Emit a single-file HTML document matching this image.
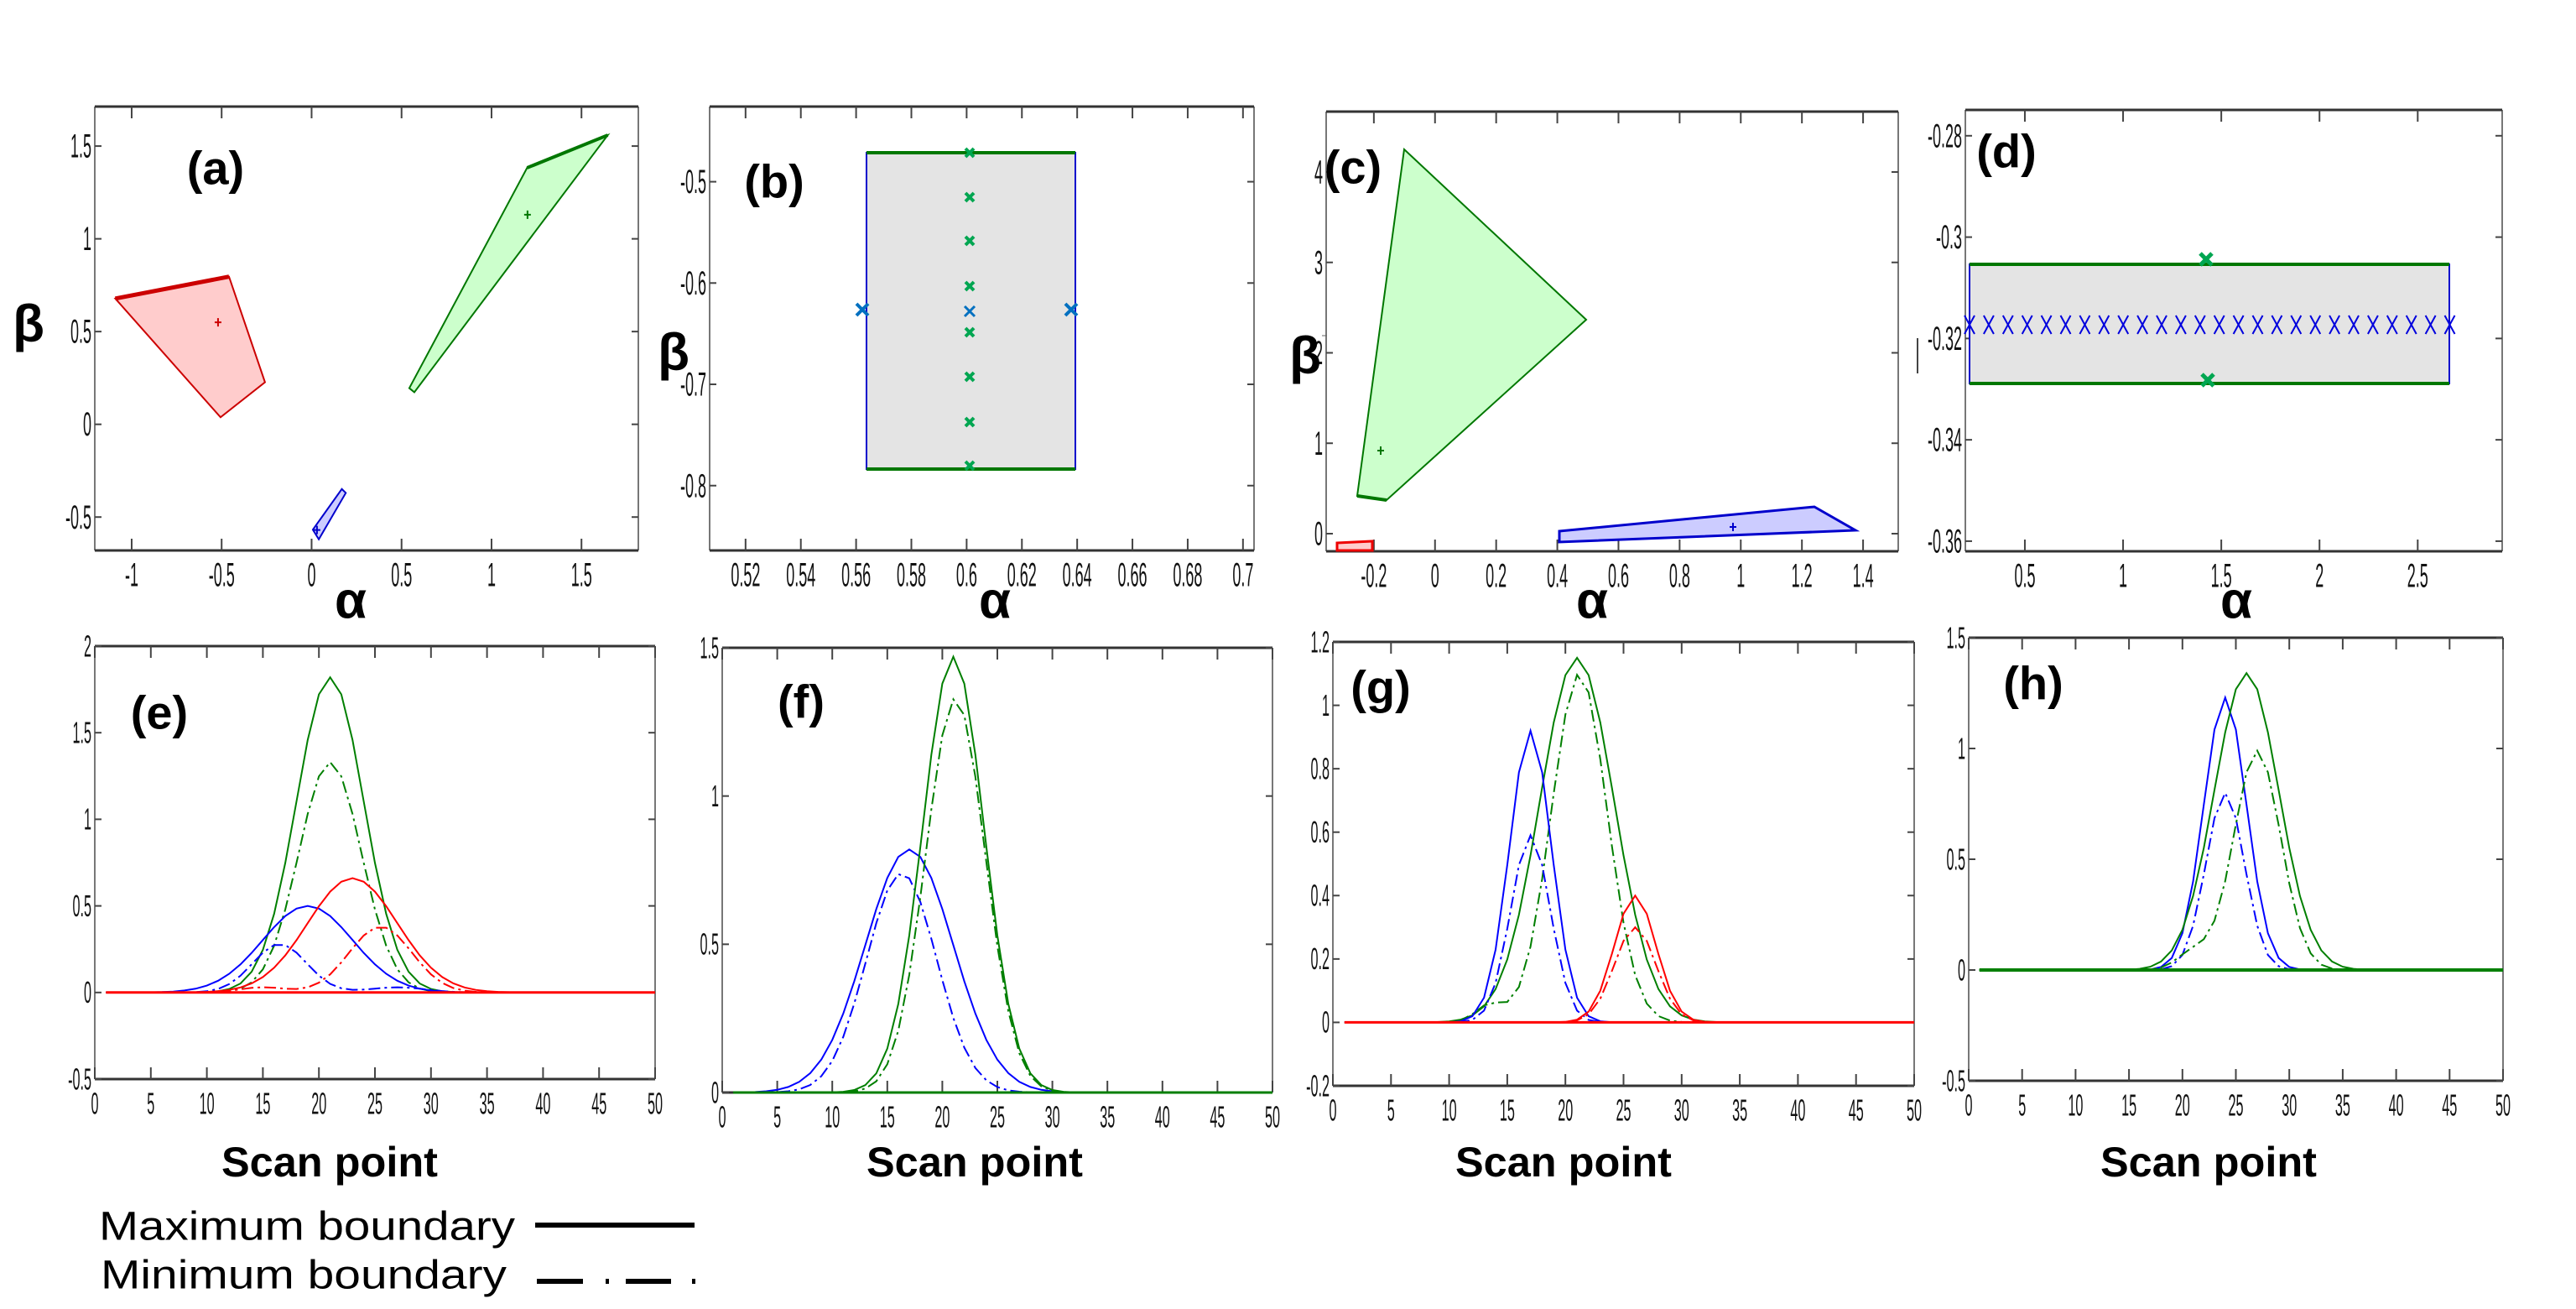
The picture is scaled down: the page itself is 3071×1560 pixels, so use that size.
<!DOCTYPE html>
<html><head><meta charset="utf-8">
<style>
html,body{margin:0;padding:0;background:#fff;}
svg{display:block;}
text{font-family:"Liberation Sans",sans-serif;}
</style></head>
<body>
<svg id="s" xmlns="http://www.w3.org/2000/svg" width="3071" height="1560" viewBox="0 0 3071 1560">
<rect width="3071" height="1560" fill="#fff"/>
</svg>
<script>
const S=document.getElementById('s');
const NS='http://www.w3.org/2000/svg';
function el(t,a,txt){const e=document.createElementNS(NS,t);for(const k in a)e.setAttribute(k,a[k]);if(txt!==undefined)e.textContent=txt;S.appendChild(e);return e;}
function mk(ax){return {X:v=>ax.l+(v-ax.x0)/(ax.x1-ax.x0)*(ax.r-ax.l),Y:v=>ax.b-(v-ax.y0)/(ax.y1-ax.y0)*(ax.b-ax.t)};}
function lbl(x,y,s,anchor,fs,sx){const e=el('text',{transform:`translate(${x},${y}) scale(${sx},1)`,'text-anchor':anchor,'font-size':fs,'dominant-baseline':'central',fill:'#111'},s);}
function axes(ax,xt,yt,fs,sx){
 const m=mk(ax);
 el('line',{x1:ax.l,y1:ax.t,x2:ax.l,y2:ax.b,stroke:'#777','stroke-width':2});
 el('line',{x1:ax.r,y1:ax.t,x2:ax.r,y2:ax.b,stroke:'#777','stroke-width':2});
 el('line',{x1:ax.l,y1:ax.t,x2:ax.r,y2:ax.t,stroke:'#333','stroke-width':3});
 el('line',{x1:ax.l,y1:ax.b,x2:ax.r,y2:ax.b,stroke:'#333','stroke-width':3});
 for(const [v,s] of xt){const x=m.X(v);
  el('line',{x1:x,y1:ax.b,x2:x,y2:ax.b-14,stroke:'#444','stroke-width':2});
  el('line',{x1:x,y1:ax.t,x2:x,y2:ax.t+14,stroke:'#444','stroke-width':2});
  lbl(x,ax.b+29,s,'middle',fs,sx);}
 for(const [v,s] of yt){const y=m.Y(v);
  el('line',{x1:ax.l,y1:y,x2:ax.l+8,y2:y,stroke:'#444','stroke-width':2});
  el('line',{x1:ax.r,y1:y,x2:ax.r-8,y2:y,stroke:'#444','stroke-width':2});
  lbl(ax.l-4,y,s,'end',fs,sx);}
 return m;}
function big(x,y,s,fs){el('text',{x:x,y:y,'text-anchor':'middle','dominant-baseline':'central','font-size':fs,'font-weight':'bold',fill:'#000'},s);}
function poly(m,pts,fill,stroke,w){el('polygon',{points:pts.map(p=>m.X(p[0])+','+m.Y(p[1])).join(' '),fill:fill,stroke:stroke,'stroke-width':w||2});}
function ppoly(pts,fill,stroke,w){el('polygon',{points:pts.map(p=>p.join(',')).join(' '),fill:fill,stroke:stroke,'stroke-width':w||2});}
function xm(x,y,c,sz,w){el('path',{d:`M${x-sz} ${y-sz}L${x+sz} ${y+sz}M${x-sz} ${y+sz}L${x+sz} ${y-sz}`,stroke:c,'stroke-width':w,fill:'none'});}
function plus(x,y,c){el('path',{d:`M${x-4} ${y}H${x+4}M${x} ${y-5}V${y+5}`,stroke:c,'stroke-width':2});}
function rng(a,b,s){const r=[];for(let v=a;v<=b+1e-9;v+=s)r.push([+v.toFixed(4),String(+v.toFixed(4))]);return r;}

const FS=40,SX=0.45;
// (a)
let A={l:113,r:761,t:127,b:656,x0:-1.205,x1:1.816,y0:-0.68,y1:1.713};
let m=axes(A,rng(-1,1.5,0.5),rng(-0.5,1.5,0.5),FS,SX);
poly(m,[[-1.091,0.678],[-0.459,0.796],[-0.259,0.227],[-0.506,0.038]],'#ffcccc','#cc0000',2);
el('line',{x1:m.X(-1.091),y1:m.Y(0.678),x2:m.X(-0.459),y2:m.Y(0.796),stroke:'#cc0000','stroke-width':5});
poly(m,[[0.543,0.195],[1.198,1.383],[1.646,1.559],[0.571,0.173]],'#ccffcc','#007700',2);
el('line',{x1:m.X(1.198),y1:m.Y(1.383),x2:m.X(1.646),y2:m.Y(1.559),stroke:'#007700','stroke-width':4});
poly(m,[[0.007,-0.568],[0.168,-0.349],[0.19,-0.37],[0.04,-0.62]],'#ccccff','#0000cc',2);
plus(m.X(-0.52),m.Y(0.55),'#cc0000');plus(m.X(1.2),m.Y(1.13),'#007700');plus(m.X(0.03),m.Y(-0.57),'#0000cc');
big(257,200,'(a)',56);big(34,386,'β',62);big(418,716,'α',62);
// (b)
let B={l:846,r:1495,t:127,b:656,x0:0.507,x1:0.704,y0:-0.864,y1:-0.4258};
m=axes(B,[[0.52,'0.52'],[0.54,'0.54'],[0.56,'0.56'],[0.58,'0.58'],[0.6,'0.6'],[0.62,'0.62'],[0.64,'0.64'],[0.66,'0.66'],[0.68,'0.68'],[0.7,'0.7']],[[-0.5,'-0.5'],[-0.6,'-0.6'],[-0.7,'-0.7'],[-0.8,'-0.8']],FS,SX);
el('rect',{x:1033,y:182,width:249,height:377,fill:'#e4e4e4',stroke:'#0000cc','stroke-width':2});
el('line',{x1:1033,y1:182,x2:1282,y2:182,stroke:'#007700','stroke-width':4});
el('line',{x1:1033,y1:559,x2:1282,y2:559,stroke:'#007700','stroke-width':4});
for(const y of [182,235,287,341,396,449,503,555])xm(1156,y,'#00a651',5,4);
xm(1028,369,'#0070c0',7,4);xm(1156,371,'#0070c0',6,3);xm(1277,369,'#0070c0',7,4);
big(923,216,'(b)',56);big(803,420,'β',62);big(1186,716,'α',62);
// (c)
let C={l:1581,r:2263,t:133,b:657,x0:-0.356,x1:1.515,y0:-0.195,y1:4.668};
m=axes(C,[[-0.2,'-0.2'],[0,'0'],[0.2,'0.2'],[0.4,'0.4'],[0.6,'0.6'],[0.8,'0.8'],[1,'1'],[1.2,'1.2'],[1.4,'1.4']],rng(0,4,1),FS,SX);
ppoly([[1674,178],[1891,381],[1653,596],[1618,591]],'#ccffcc','#007700',2);
el('line',{x1:1618,y1:591,x2:1653,y2:596,stroke:'#007700','stroke-width':4});
ppoly([[1859,633],[2163,604],[2212,632],[1859,646]],'#ccccff','#0000cc',3);
ppoly([[1594,647],[1636,645],[1636,656],[1594,656]],'#ffcccc','#ee0000',3);
plus(1646,537,'#007700');plus(2066,628,'#0000cc');
big(1613,199,'(c)',56);big(1556,424,'β',62);big(1898,716,'α',62);
el('line',{x1:1576,y1:400,x2:1582,y2:400,stroke:'#666','stroke-width':1});
// (d)
let D={l:2343,r:2983,t:131,b:657,x0:0.197,x1:2.93,y0:-0.362,y1:-0.2749};
m=axes(D,[[0.5,'0.5'],[1,'1'],[1.5,'1.5'],[2,'2'],[2.5,'2.5']],[[-0.28,'-0.28'],[-0.3,'-0.3'],[-0.32,'-0.32'],[-0.34,'-0.34'],[-0.36,'-0.36']],FS,SX);
el('rect',{x:2348,y:315,width:572,height:142,fill:'#e4e4e4',stroke:'#0000cc','stroke-width':2});
el('line',{x1:2348,y1:315,x2:2920,y2:315,stroke:'#007700','stroke-width':4});
el('line',{x1:2348,y1:457,x2:2920,y2:457,stroke:'#007700','stroke-width':4});
for(let i=0;i<26;i++){const x=2348+i*22.9;el('path',{d:`M${x-6} ${387-11}L${x+6} ${387+11}M${x-6} ${387+11}L${x+6} ${387-11}`,stroke:'#0000dd','stroke-width':2,fill:'none'});}
xm(2630,309,'#00a651',7,5);xm(2632,453,'#00a651',7,5);
el('line',{x1:2286,y1:403,x2:2286,y2:445,stroke:'#444','stroke-width':2});
big(2392,180,'(d)',56);big(2666,716,'α',62);

// bottom row
function g(x,a,mu,s){return a*Math.exp(-0.5*((x-mu)/s)**2);}
function curve(m,fn,col,dash,w){let d='';for(let x=1;x<=50;x++){d+=(x==1?'M':'L')+m.X(x).toFixed(1)+' '+m.Y(fn(x)).toFixed(1);}
 const a={d:d,stroke:col,'stroke-width':w||2,fill:'none'};if(dash)a['stroke-dasharray']='14 5 3 5';el('path',a);}
const GR='#007f00',BL='#0000ff',RD='#ff0000';
const xt=rng(0,50,5);const BF=36,BSX=0.45;
// (e)
let E={l:113,r:781,t:770,b:1286,x0:0,x1:50,y0:-0.5,y1:2};
m=axes(E,xt,[[-0.5,'-0.5'],[0,'0'],[0.5,'0.5'],[1,'1'],[1.5,'1.5'],[2,'2']],BF,BSX);
curve(m,x=>g(x,1.82,21,3),GR);curve(m,x=>g(x,1.33,21,2.8),GR,1);
curve(m,x=>g(x,0.5,19,4),BL);curve(m,x=>g(x,0.28,16.5,2.4)+g(x,0.03,27,2.5),BL,1);
curve(m,x=>g(x,0.66,23,4),RD);curve(m,x=>g(x,0.38,25.5,2.8)+g(x,0.03,15,2),RD,1);
el('line',{x1:m.X(1),y1:m.Y(0),x2:m.X(50),y2:m.Y(0),stroke:RD,'stroke-width':3});
big(190,849,'(e)',56);
// (f)
let F={l:861,r:1517,t:772,b:1302,x0:0,x1:50,y0:0,y1:1.5};
m=axes(F,xt,[[0,'0'],[0.5,'0.5'],[1,'1'],[1.5,'1.5']],BF,BSX);
curve(m,x=>g(x,0.82,17,4),BL);curve(m,x=>g(x,0.74,16.3,3.2),BL,1);
curve(m,x=>g(x,1.47,21,2.8),GR);curve(m,x=>g(x,1.33,21.2,2.7),GR,1);
el('line',{x1:m.X(1),y1:m.Y(0),x2:m.X(50),y2:m.Y(0),stroke:GR,'stroke-width':3});
big(955,836,'(f)',56);
// (g)
let G={l:1589,r:2282,t:765,b:1294,x0:0,x1:50,y0:-0.2,y1:1.2};
m=axes(G,xt,[[-0.2,'-0.2'],[0,'0'],[0.2,'0.2'],[0.4,'0.4'],[0.6,'0.6'],[0.8,'0.8'],[1,'1'],[1.2,'1.2']],BF,BSX);
curve(m,x=>g(x,1.15,21,3.2),GR);curve(m,x=>g(x,1.1,21.2,2.4)+g(x,0.055,13.5,1.2),GR,1);
curve(m,x=>g(x,0.92,17,1.8),BL);curve(m,x=>g(x,0.59,17,1.7),BL,1);
curve(m,x=>g(x,0.4,26,1.8),RD);curve(m,x=>g(x,0.3,26,1.8),RD,1);
el('line',{x1:m.X(1),y1:m.Y(0),x2:m.X(50),y2:m.Y(0),stroke:RD,'stroke-width':3});
big(1646,819,'(g)',56);
// (h)
let H={l:2347,r:2984,t:760,b:1288,x0:0,x1:50,y0:-0.5,y1:1.5};
m=axes(H,xt,[[-0.5,'-0.5'],[0,'0'],[0.5,'0.5'],[1,'1'],[1.5,'1.5']],BF,BSX);
curve(m,x=>g(x,1.23,24,2),BL);curve(m,x=>g(x,0.8,24,1.8),BL,1);
curve(m,x=>g(x,1.34,26,3),GR);curve(m,x=>g(x,0.99,27,2.2)+g(x,0.08,21,1.5),GR,1);
el('line',{x1:m.X(1),y1:m.Y(0),x2:m.X(50),y2:m.Y(0),stroke:GR,'stroke-width':4});
big(2424,814,'(h)',56);
// Scan point labels
for(const x of [393,1162,1864,2633])el('text',{x:x,y:1385,'text-anchor':'middle','dominant-baseline':'central','font-size':50,'font-weight':'bold',textLength:258,lengthAdjust:'spacingAndGlyphs'},'Scan point');
// legend
el('text',{x:118,y:1462,'dominant-baseline':'central','font-size':48,textLength:496,lengthAdjust:'spacingAndGlyphs'},'Maximum boundary');
el('text',{x:120,y:1520,'dominant-baseline':'central','font-size':48,textLength:484,lengthAdjust:'spacingAndGlyphs'},'Minimum boundary');
el('line',{x1:638,y1:1460,x2:828,y2:1460,stroke:'#000','stroke-width':6});
for(const [a,b] of [[640,695],[722,726],[746,800],[825,829]])el('line',{x1:a,y1:1527,x2:b,y2:1527,stroke:'#000','stroke-width':6});
</script>
</body></html>
